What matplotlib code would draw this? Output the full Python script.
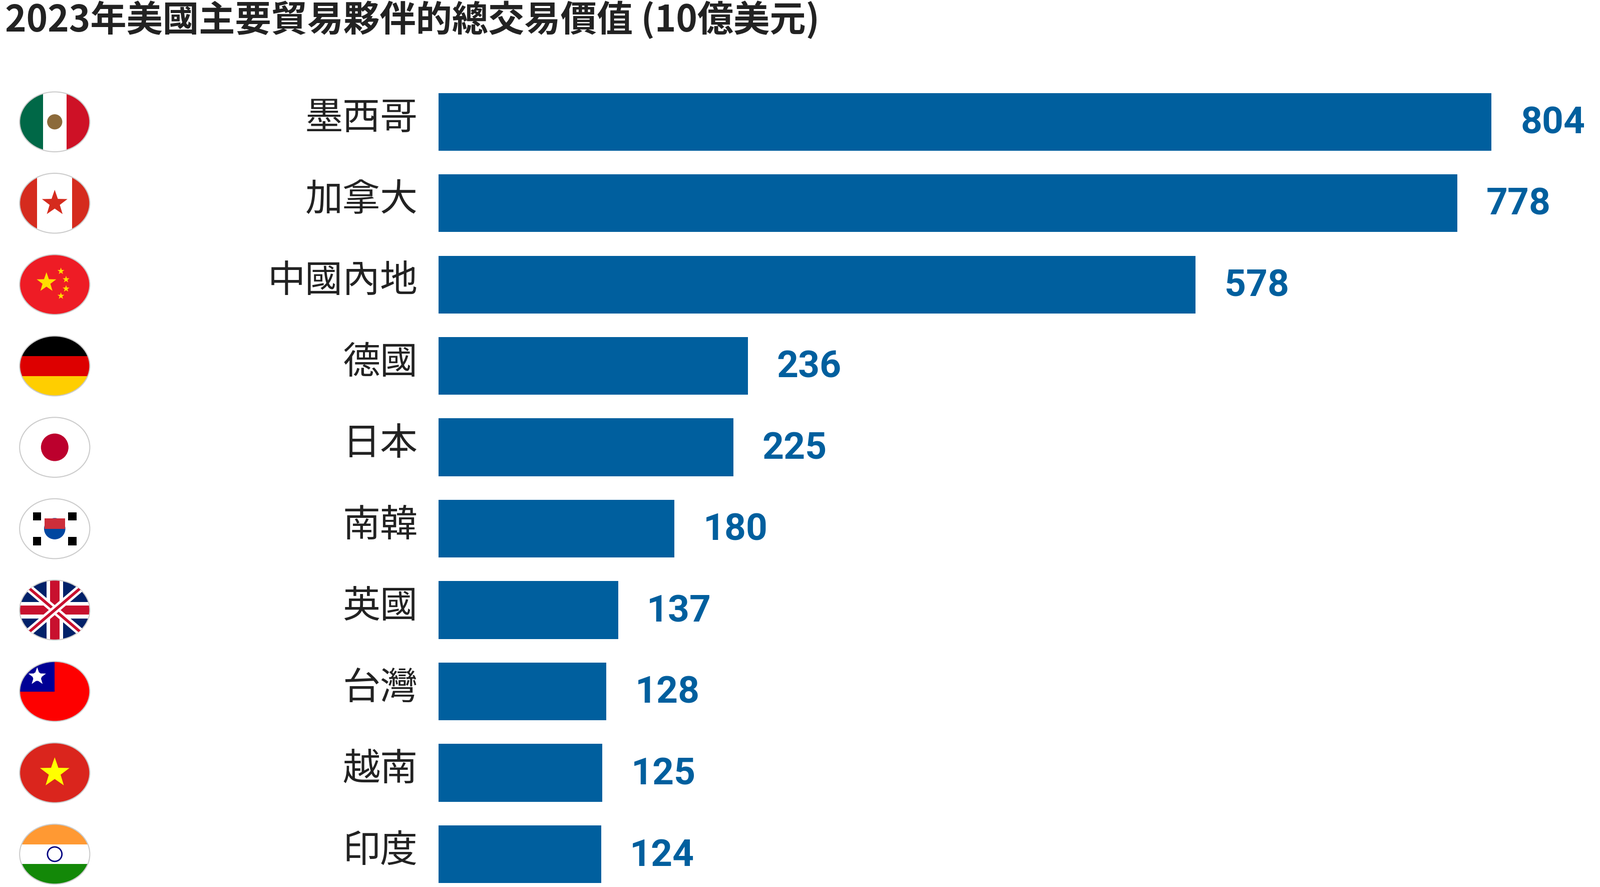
import matplotlib
matplotlib.use("Agg")
import matplotlib.pyplot as plt
import numpy as np
from matplotlib.patches import Ellipse, Rectangle, Circle, Polygon

# ── Data ──────────────────────────────────────────────────────────────────────
countries = ["墨西哥", "加拿大", "中國內地", "德國", "日本", "南韓", "英國", "台灣", "越南", "印度"]
values    = [804, 778, 578, 236, 225, 180, 137, 128, 125, 124]
flags     = ["mx", "ca", "cn", "de", "jp", "kr", "gb", "tw", "vn", "in"]
title     = "2023年美國主要貿易夥伴的總交易價值 (10億美元)"

FONT  = ["Noto Sans CJK TC", "Noto Sans CJK JP", "Noto Sans CJK SC", "DejaVu Sans"]
BLUE  = "#005f9e"
W, H  = 1550, 859          # layout units (reference display px)

fig = plt.figure(figsize=(31.96, 17.71), dpi=100, facecolor="white")

# ── Bars ──────────────────────────────────────────────────────────────────────
ax = fig.add_axes([425 / W, 0, 1 - 425 / W, 1])
px_per_unit = 1020 / 804
ax.set_xlim(0, (W - 425) / px_per_unit)
step, y0 = 78.8, 118
ax.set_ylim((H - y0) / step, -y0 / step)
ypos = np.arange(len(values))
ax.barh(ypos, values, height=0.71, color=BLUE)
ax.axis("off")
for y, v, name in zip(ypos, values, countries):
    ax.text(-16, y - 0.04, name, ha="right", va="center", fontsize=54,
            family=FONT, color="#222222", clip_on=False)
    ax.text(v + 22, y + 0.02, str(v), ha="left", va="center", fontsize=54,
            family=["Roboto"] + FONT, fontweight="bold", color=BLUE)

fig.text(5 / W, 1 - 20 / H, title, ha="left", va="center", fontsize=52,
         family=FONT, fontweight="bold", color="#222222")

# ── Flags ─────────────────────────────────────────────────────────────────────
fa = fig.add_axes([0, 0, 1, 1])
fa.set_xlim(0, W)
fa.set_ylim(H, 0)
fa.axis("off")
fw, fh = 68, 58


def star(cx, cy, r, color, rot=0):
    ang = np.deg2rad(np.arange(10) * 36 - 90 + rot)
    rr = np.where(np.arange(10) % 2 == 0, r, r * 0.4)
    pts = np.c_[cx + rr * np.cos(ang), cy + rr * np.sin(ang)]
    return Polygon(pts, closed=True, color=color, lw=0)


def draw_flag(code, cx, cy):
    clip = Ellipse((cx, cy), fw, fh, transform=fa.transData)
    l, t = cx - fw / 2, cy - fh / 2
    parts = []
    R = lambda x, y, w, h, c: Rectangle((x, y), w, h, color=c, lw=0)
    if code == "mx":
        parts += [R(l, t, fw / 3, fh, "#006847"), R(l + fw / 3, t, fw / 3, fh, "white"),
                  R(l + 2 * fw / 3, t, fw / 3, fh, "#ce1126"), Circle((cx, cy), 7, color="#8c6a3a")]
    elif code == "ca":
        parts += [R(l, t, fw / 4, fh, "#d52b1e"), R(l + fw / 4, t, fw / 2, fh, "white"),
                  R(l + 3 * fw / 4, t, fw / 4, fh, "#d52b1e"), star(cx, cy, 13, "#d52b1e")]
    elif code == "cn":
        parts += [R(l, t, fw, fh, "#ee1c25"), star(cx - 8, cy - 2, 10, "#ffde00")]
        for dx, dy in [(6, -13), (11, -5), (11, 4), (6, 11)]:
            parts.append(star(cx + dx, cy + dy, 3.5, "#ffde00"))
    elif code == "de":
        parts += [R(l, t, fw, fh / 3, "black"), R(l, t + fh / 3, fw, fh / 3, "#dd0000"),
                  R(l, t + 2 * fh / 3, fw, fh / 3, "#ffce00")]
    elif code == "jp":
        parts += [R(l, t, fw, fh, "white"), Circle((cx, cy), 13, color="#bc002d")]
    elif code == "kr":
        parts += [R(l, t, fw, fh, "white"), Circle((cx, cy), 10, color="#0047a0"),
                  Rectangle((cx - 10, cy - 10), 20, 10, color="#cd2e3a", lw=0)]
        for dx, dy in [(-17, -12), (17, -12), (-17, 12), (17, 12)]:
            parts.append(Rectangle((cx + dx - 4, cy + dy - 4), 8, 8, color="black", lw=0))
    elif code == "gb":
        parts.append(R(l, t, fw, fh, "#012169"))
        for (x1, y1, x2, y2) in [(l, t, l + fw, t + fh), (l, t + fh, l + fw, t)]:
            fa.plot([x1, x2], [y1, y2], color="white", lw=11, clip_path=clip, solid_capstyle="butt")
            fa.plot([x1, x2], [y1, y2], color="#c8102e", lw=4, clip_path=clip, solid_capstyle="butt")
        parts += [R(cx - 8, t, 16, fh, "white"), R(l, cy - 8, fw, 16, "white"),
                  R(cx - 4.5, t, 9, fh, "#c8102e"), R(l, cy - 4.5, fw, 9, "#c8102e")]
    elif code == "tw":
        parts += [R(l, t, fw, fh, "#fe0000"), R(l, t, fw / 2, fh / 2, "#000095"),
                  star(l + fw / 4, t + fh / 4, 9, "white"), Circle((l + fw / 4, t + fh / 4), 4, color="white")]
    elif code == "vn":
        parts += [R(l, t, fw, fh, "#da251d"), star(cx, cy, 15, "#ffff00")]
    elif code == "in":
        parts += [R(l, t, fw, fh / 3, "#ff9933"), R(l, t + fh / 3, fw, fh / 3, "white"),
                  R(l, t + 2 * fh / 3, fw, fh / 3, "#138808"),
                  Circle((cx, cy), 7, fill=False, ec="#000080", lw=2)]
    for p in parts:
        fa.add_patch(p)
        p.set_clip_path(clip)
    fa.add_patch(Ellipse((cx, cy), fw, fh, fill=False, ec="#cccccc", lw=1.5))


for i, code in enumerate(flags):
    draw_flag(code, 53, y0 + step * i)

fig.savefig("out.png", dpi=100, facecolor="white")
